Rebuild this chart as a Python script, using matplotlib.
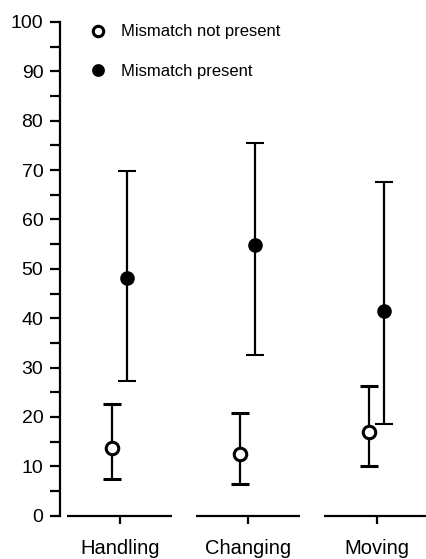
import matplotlib
matplotlib.use("Agg")
import matplotlib.pyplot as plt
from matplotlib.lines import Line2D
import numpy as np

categories = ["Handling", "Changing", "Moving"]
not_present_mean = [13.8, 12.5, 17.0]
not_present_low = [7.4, 6.4, 10.1]
not_present_high = [22.6, 20.9, 26.3]
present_mean = [48.2, 54.9, 41.5]
present_low = [27.3, 32.5, 18.6]
present_high = [69.9, 75.5, 67.5]
yticks = [0, 10, 20, 30, 40, 50, 60, 70, 80, 90, 100]

plt.rcParams['font.family'] = ['Liberation Sans', 'DejaVu Sans']

fig = plt.figure(figsize=(4.27, 5.59), dpi=100)
ax = fig.add_axes([60/427, 43.3/559, 1 - 60/427, 493.7/559])

x = np.arange(len(categories))
np_mean = np.array(not_present_mean)
p_mean = np.array(present_mean)

ax.errorbar(x - 0.065, np_mean,
            yerr=[np_mean - np.array(not_present_low), np.array(not_present_high) - np_mean],
            fmt='o', color='black', mfc='white', mec='black', ms=9, mew=2.2,
            ecolor='black', elinewidth=1.6, capsize=6.5, capthick=1.6, zorder=3,
            clip_on=False)
ax.errorbar(x + 0.052, p_mean,
            yerr=[p_mean - np.array(present_low), np.array(present_high) - p_mean],
            fmt='o', color='black', mfc='black', mec='black', ms=9, mew=1.5,
            ecolor='black', elinewidth=1.6, capsize=6.5, capthick=1.6, zorder=3,
            clip_on=False)

# broken bottom axis segments
for xi in x:
    ax.plot([xi - 0.41, xi + 0.405], [0, 0], color='black', lw=1.6, clip_on=False,
            solid_capstyle='butt')

ax.set_xlim(-0.467, 2.39)
ax.set_ylim(0, 100)
ax.spines['top'].set_visible(False)
ax.spines['right'].set_visible(False)
ax.spines['bottom'].set_visible(False)
ax.spines['left'].set_linewidth(1.6)
ax.spines['left'].set_bounds(0, 100)

ax.set_yticks(yticks)
ax.set_yticklabels([str(v) for v in yticks], fontsize=14)
ax.set_yticks(np.array(yticks[:-1]) + 5, minor=True)
ax.tick_params(axis='y', which='both', direction='out', length=7, width=1.6, pad=5)
ax.set_xticks(x)
ax.set_xticklabels(categories, fontsize=14.5)
ax.tick_params(axis='x', direction='out', length=6, width=1.6, pad=11)

handles = [
    Line2D([], [], ls='none', marker='o', mfc='white', mec='black', ms=7.5, mew=2.2),
    Line2D([], [], ls='none', marker='o', mfc='black', mec='black', ms=8, mew=1.2),
]
leg = ax.legend(handles, ['Mismatch not present', 'Mismatch present'],
                loc='upper left', bbox_to_anchor=(0.0845, 0.995), frameon=False,
                fontsize=12, handletextpad=1.0, labelspacing=1.45,
                handlelength=0.8, borderaxespad=0, borderpad=0)

fig.savefig("out.png", dpi=100)
